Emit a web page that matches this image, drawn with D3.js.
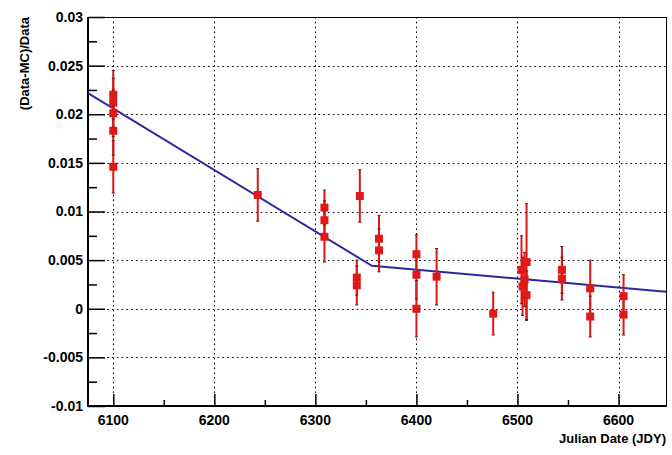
<!DOCTYPE html>
<html>
<head>
<meta charset="utf-8">
<script src="https://cdn.jsdelivr.net/npm/d3@7"></script>
<style>
  html, body { margin: 0; padding: 0; background: #fff; }
  svg { display: block; }
  text { font-family: "Liberation Sans", Arial, Helvetica, sans-serif; font-weight: bold; }
</style>
</head>
<body>
<svg id="chart" width="672" height="455"></svg>
<script>
// Measurement dates (Julian day) and relative difference (Data-MC)/Data with errors
const dates  = [6100, 6100, 6100, 6100, 6100,
                6243,
                6309, 6309, 6309,
                6344, 6341, 6341,
                6363, 6363,
                6400, 6400, 6400,
                6420,
                6476,
                6509, 6504, 6507, 6505, 6509,
                6544, 6544,
                6572, 6572,
                6605, 6605];
const ratios = [0.0220, 0.0212, 0.0201, 0.0183, 0.0146,
                0.0117,
                0.0104, 0.0091, 0.0074,
                0.0116, 0.0032, 0.0024,
                0.0072, 0.0060,
                0.0056, 0.0035, 0.0000,
                0.0033,
               -0.0005,
                0.0048, 0.0040, 0.0030, 0.0023, 0.0014,
                0.0040, 0.0031,
                0.0021, -0.0008,
                0.0013, -0.0006];
const errors = [0.0025, 0.0025, 0.0024, 0.0025, 0.0027,
                0.0027,
                0.0018, 0.0020, 0.0026,
                0.0027, 0.0018, 0.0020,
                0.0024, 0.0022,
                0.0020, 0.0025, 0.0029,
                0.0029,
                0.0022,
                0.0060, 0.0035, 0.0028, 0.0030, 0.0025,
                0.0024, 0.0022,
                0.0029, 0.0021,
                0.0022, 0.0021];

// Broken-line fit: steep decline, then a slow drift
const fitX = [6075, 6356, 6647];
const fitY = [0.02218, 0.00441, 0.00175];

// Axis ticks
const xMajor = [6100, 6200, 6300, 6400, 6500, 6600];
const xMinor = [6150, 6250, 6350, 6450, 6550];
const yMajor = [-0.01, -0.005, 0, 0.005, 0.01, 0.015, 0.02, 0.025, 0.03];
const yMajorLabels = ["-0.01", "-0.005", "0", "0.005", "0.01", "0.015", "0.02", "0.025", "0.03"];
const yMinor = [-0.0075, -0.0025, 0.0025, 0.0075, 0.0125, 0.0175, 0.0225, 0.0275];

const frameL = 88, frameR = 666, frameT = 17, frameB = 406;
const svg = d3.select("#chart");

const x = d3.scaleLinear().domain([6075, 6647]).range([frameL, frameR]);
const y = d3.scaleLinear().domain([-0.01, 0.03]).range([frameB, frameT]);

// Dotted grid
const grid = svg.append("g").attr("stroke", "#000").attr("stroke-width", 1)
  .attr("stroke-dasharray", "1.6,3.2");
grid.selectAll(".gx").data(xMajor).join("line")
  .attr("x1", d => Math.round(x(d)) + 0.5).attr("x2", d => Math.round(x(d)) + 0.5)
  .attr("y1", frameT).attr("y2", frameB);
grid.selectAll(".gy").data(yMajor.filter(v => v > -0.01 && v < 0.03)).join("line")
  .attr("x1", frameL).attr("x2", frameR)
  .attr("y1", d => Math.round(y(d)) + 0.5).attr("y2", d => Math.round(y(d)) + 0.5);

// Frame
svg.append("rect").attr("x", frameL + 0.5).attr("y", frameT + 0.5)
  .attr("width", frameR - frameL).attr("height", frameB - frameT)
  .attr("fill", "none").attr("stroke", "#000").attr("stroke-width", 1);

// Y axis with inward ticks
const yAxis = d3.axisRight(y).tickValues(yMajor).tickSize(17).tickFormat("");
const yg = svg.append("g").attr("transform", `translate(${frameL},0)`).call(yAxis);
yg.select(".domain").remove();
yg.selectAll(".tick line").attr("stroke", "#000").attr("stroke-width", 1.5);
const yMinorAxis = d3.axisRight(y).tickValues(yMinor).tickSize(9).tickFormat("");
const ymg = svg.append("g").attr("transform", `translate(${frameL},0)`).call(yMinorAxis);
ymg.select(".domain").remove();
ymg.selectAll(".tick line").attr("stroke", "#000").attr("stroke-width", 1.5);

// Y tick labels
svg.append("g").selectAll("text").data(yMajor).join("text")
  .attr("x", frameL - 5).attr("y", d => y(d)).attr("dy", "0.35em")
  .attr("text-anchor", "end").attr("font-size", 14).attr("fill", "#000")
  .text((d, i) => yMajorLabels[i]);

// X axis with inward ticks
const xAxis = d3.axisTop(x).tickValues(xMajor).tickSize(12).tickFormat("");
const xg = svg.append("g").attr("transform", `translate(0,${frameB})`).call(xAxis);
xg.select(".domain").remove();
xg.selectAll(".tick line").attr("stroke", "#000").attr("stroke-width", 1.5);
const xMinorAxis = d3.axisTop(x).tickValues(xMinor).tickSize(6).tickFormat("");
const xmg = svg.append("g").attr("transform", `translate(0,${frameB})`).call(xMinorAxis);
xmg.select(".domain").remove();
xmg.selectAll(".tick line").attr("stroke", "#000").attr("stroke-width", 1.5);

svg.append("g").selectAll("text").data(xMajor).join("text")
  .attr("x", d => x(d)).attr("y", frameB + 19)
  .attr("text-anchor", "middle").attr("font-size", 14).attr("fill", "#000")
  .text(d => d);

// Heavier left and bottom axis lines
svg.append("line").attr("x1", frameL).attr("x2", frameL).attr("y1", frameT).attr("y2", frameB + 1)
  .attr("stroke", "#000").attr("stroke-width", 2);
svg.append("line").attr("x1", frameL - 1).attr("x2", frameR + 1).attr("y1", frameB).attr("y2", frameB)
  .attr("stroke", "#000").attr("stroke-width", 2);

// Axis titles
svg.append("text").attr("x", frameR).attr("y", frameB + 37)
  .attr("text-anchor", "end").attr("font-size", 13).attr("fill", "#000")
  .text("Julian Date (JDY)");
svg.append("text")
  .attr("transform", `translate(29,${frameT}) rotate(-90)`)
  .attr("text-anchor", "end").attr("font-size", 13).attr("fill", "#000")
  .text("(Data-MC)/Data");

// Fit line
svg.append("path")
  .datum(fitX.map((d, i) => [d, fitY[i]]))
  .attr("d", d3.line().x(d => x(d[0])).y(d => y(d[1])))
  .attr("fill", "none").attr("stroke", "#2a2aa0").attr("stroke-width", 2);

// Data points with vertical error bars
const pts = dates.map((d, i) => ({ x: d, y: ratios[i], e: errors[i] }));
const pg = svg.append("g");
pg.selectAll(".err").data(pts).join("line")
  .attr("x1", d => x(d.x)).attr("x2", d => x(d.x))
  .attr("y1", d => y(d.y + d.e)).attr("y2", d => y(d.y - d.e))
  .attr("stroke", "#d81818").attr("stroke-width", 2);
pg.selectAll(".capT").data(pts).join("line")
  .attr("x1", d => x(d.x) - 1.5).attr("x2", d => x(d.x) + 1.5)
  .attr("y1", d => y(d.y + d.e)).attr("y2", d => y(d.y + d.e))
  .attr("stroke", "#5a1a1a").attr("stroke-width", 1);
pg.selectAll(".capB").data(pts).join("line")
  .attr("x1", d => x(d.x) - 1.5).attr("x2", d => x(d.x) + 1.5)
  .attr("y1", d => y(d.y - d.e)).attr("y2", d => y(d.y - d.e))
  .attr("stroke", "#5a1a1a").attr("stroke-width", 1);
pg.selectAll(".mk").data(pts).join("rect")
  .attr("x", d => x(d.x) - 4).attr("y", d => y(d.y) - 4)
  .attr("width", 8).attr("height", 8)
  .attr("fill", "#e01818");
</script>
</body>
</html>
